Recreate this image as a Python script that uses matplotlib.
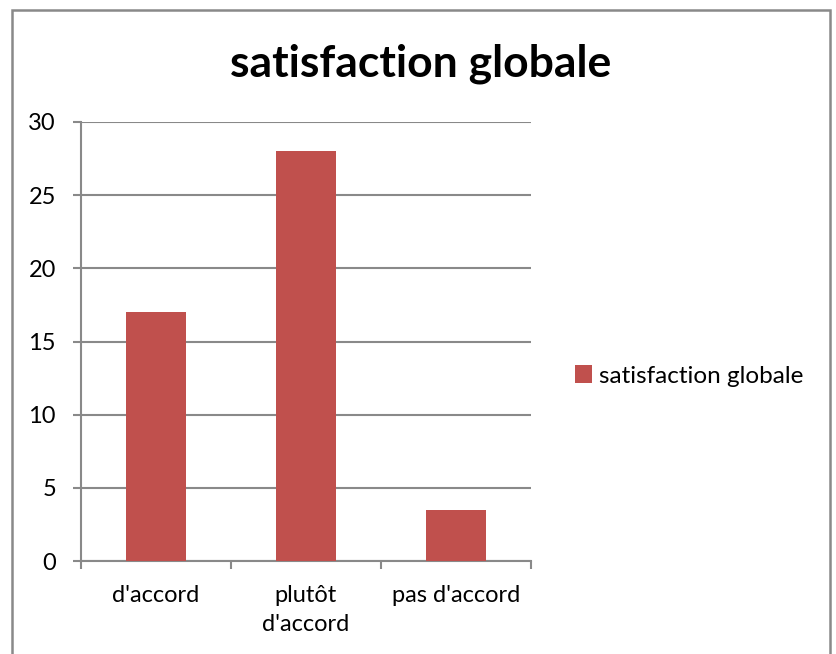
import matplotlib
matplotlib.use("Agg")
import matplotlib.pyplot as plt
from matplotlib.patches import Rectangle

categories = ["d'accord", "plutôt\nd'accord", "pas d'accord"]
values = [17, 28, 3.5]
series_name = "satisfaction globale"
yticks = [0, 5, 10, 15, 20, 25, 30]

W, H = 836, 654
plt.rcParams['font.family'] = ['Lato', 'DejaVu Sans']
grey = '#898989'

fig = plt.figure(figsize=(W / 100, H / 100), dpi=100)
# outer chart frame (bottom edge falls outside the picture)
fig.patches.append(Rectangle((12 / W, -0.05), (830 - 12) / W, 1.05 - 10 / H,
                             transform=fig.transFigure, fill=False,
                             edgecolor=grey, linewidth=1.8))

ax = fig.add_axes([81 / W, 1 - 561 / H, (531 - 81) / W, (561 - 122) / H])
x = range(len(categories))
ax.bar(x, values, width=0.4, color='#c0504d', label=series_name, zorder=3)

ax.set_xlim(-0.5, 2.5)
ax.set_ylim(0, 30)
ax.set_yticks(yticks)
ax.set_xticks([-0.5, 0.5, 1.5, 2.5], minor=False)
ax.set_xticklabels([])
ax.set_xticks(list(x), minor=True)
ax.set_xticklabels(categories, minor=True, fontsize=17, linespacing=1.5)
ax.tick_params(axis='x', which='minor', length=0, pad=17)
ax.tick_params(axis='x', which='major', length=6, direction='out', color=grey, width=1.5)
ax.tick_params(axis='y', length=6, direction='out', color=grey, width=1.5,
               labelsize=17, pad=12)
ax.grid(axis='y', color=grey, linewidth=1.5, zorder=0)
for s in ['top', 'right']:
    ax.spines[s].set_visible(False)
for s in ['left', 'bottom']:
    ax.spines[s].set_color(grey)
    ax.spines[s].set_linewidth(1.5)

fig.text((229 + 612) / 2 / W, 1 - 64 / H, "satisfaction globale",
         ha='center', va='center', fontsize=32, fontweight='bold')

leg = fig.legend(loc='center left', bbox_to_anchor=(553 / W, 1 - 376 / H),
                 frameon=False, fontsize=17.5, handlelength=0.7, handleheight=0.7,
                 handletextpad=0.3)

fig.savefig("out.png", dpi=100)
